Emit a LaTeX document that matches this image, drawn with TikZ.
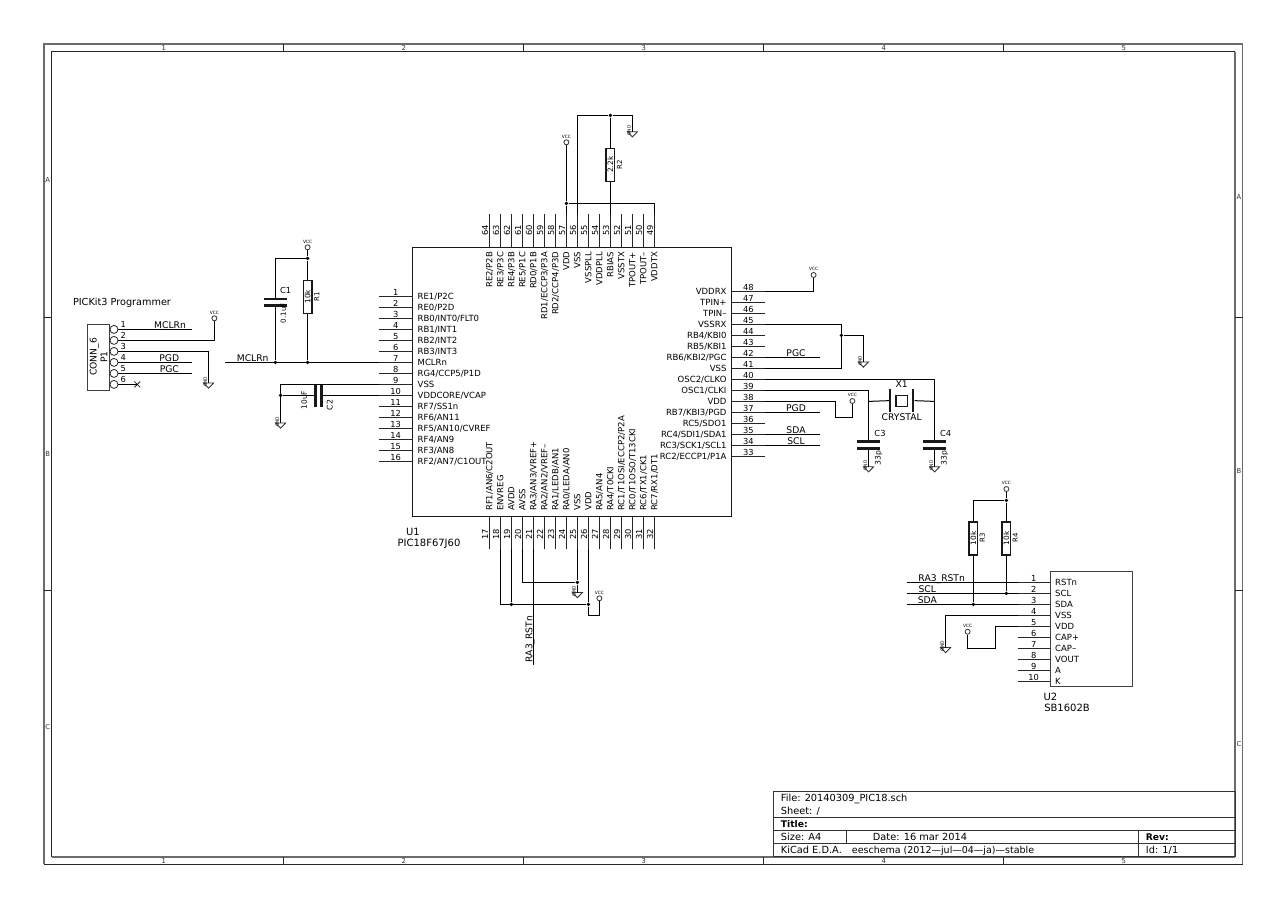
\documentclass[tikz,border=0pt]{standalone}
\usepackage{fontspec}
\setmainfont{DejaVu Sans}
\usepackage{tikz}
\usetikzlibrary{positioning,calc,shapes.misc}
\definecolor{frameGray}{gray}{0.42}
\newcommand{\fs}[1]{\fontsize{#1}{#1}\selectfont}
\tikzset{
  wire/.style={line width=1pt, black},
  pinline/.style={line width=1pt, black!85},
  junct/.style={circle, fill=black, draw=none, inner sep=0pt, minimum size=3.8pt},
  plate/.style={rectangle, fill=black!90, draw=none, inner sep=0pt, minimum width=23.5pt, minimum height=2.6pt},
  resbody/.style={rectangle, draw=black!90, line width=1.4pt, fill=white, inner sep=0pt,
                  minimum width=33pt, minimum height=8.5pt, font=\fs{7.4}},
  pinname/.style={inner sep=0pt, font=\fs{8.5}, text height=6pt, text depth=0pt},
  pinnum/.style={inner sep=0pt, font=\fs{8.3}, text height=6pt, text depth=0pt},
  netlab/.style={inner sep=0pt, font=\fs{9.2}, text height=6.6pt, text depth=0pt},
  reflab/.style={inner sep=0pt, font=\fs{10}, text height=6.8pt, text depth=0pt},
  vallab/.style={inner sep=0pt, font=\fs{7}, text height=5.2pt, text depth=0pt},
  vccdot/.style={circle, draw=black!80, line width=0.8pt, inner sep=0pt, minimum size=5pt},
  vcclab/.style={inner sep=0pt, font=\fs{4.4}},
  gndtri/.style={draw=black!80, line width=0.9pt},
  gndlab/.style={inner sep=0pt, font=\fs{4.4}, rotate=90},
  nocon/.style={cross out, draw=black!85, line width=0.8pt, inner sep=0pt, minimum size=5pt},
  thickframe/.style={draw=frameGray, line width=1.9pt},
  midframe/.style={draw=frameGray, line width=1.5pt},
  thinframe/.style={draw=black!85, line width=0.9pt},
  gridlab/.style={inner sep=0pt, font=\fs{6.8}, text=black!80},
  tblock/.style={draw=black!80, line width=0.9pt},
  tbtext/.style={inner sep=0pt, anchor=west, font=\fs{9.8}, text height=6.8pt, text depth=0pt}
}
\newcommand{\vccsym}[3]{%
  \node[vccdot] (#1) at (#2,#3) {};
  \node[vcclab] (#1t) at (#2,#3-5.8) {VCC};}
\newcommand{\gndsym}[3]{%
  \coordinate (#1) at (#2,#3);
  \draw[gndtri] (#2-5,#3) -- (#2+5,#3) -- (#2,#3+5.2) -- cycle;
  \node[gndlab] (#1t) at (#2-3.4,#3-1.2) {GND};}
\begin{document}
\begin{tikzpicture}[x=1pt, y=-1pt]

\useasboundingbox[fill=white] (0,0) rectangle (1285,908);

% Sheet frame with its grid marks
\draw[thickframe] (44,864.3) -- (44,44) -- (1242.6,44);
\draw[midframe] (1242.6,44) -- (1242.6,864.3);
\draw[thinframe] (44,864.3) -- (1242.6,864.3);
\draw[thinframe] (1235,51.7) -- (51.7,51.7) -- (51.7,856.7);
\draw[thickframe] (51.7,856.7) -- (1235,856.7);
\draw[midframe] (1235,51.7) -- (1235,856.7);
\foreach \gx in {283.7,523.7,763.7,1003.7}{
  \draw[thinframe] (\gx,44) -- (\gx,51.7);
  \draw[thinframe] (\gx,856.7) -- (\gx,864.3);
}
\foreach \gy in {317.4,590.7}{
  \draw[thinframe] (44,\gy) -- (51.7,\gy);
  \draw[thinframe] (1235,\gy) -- (1242.6,\gy);
}
\foreach \lab/\gx in {1/163.7,2/403.7,3/643.7,4/883.7,5/1123.7}{
  \node[gridlab] (top\lab) at (\gx,47.8) {\lab};
  \node[gridlab] (bot\lab) at (\gx,860.6) {\lab};
}
\foreach \lab/\gyL/\gyR in {A/180/197.3,B/454/471,C/727.3/744.3}{
  \node[gridlab] (lft\lab) at (47.8,\gyL) {\lab};
  \node[gridlab] (rgt\lab) at (1239,\gyR) {\lab};
}

% Title block
\draw[tblock] (773.3,791.4) rectangle (1235,856.7);
\draw[tblock] (773.3,817.7) -- (1235,817.7);
\draw[tblock] (773.3,830.7) -- (1235,830.7);
\draw[tblock] (773.3,843.7) -- (1235,843.7);
\draw[tblock] (846.4,830.7) -- (846.4,843.7);
\draw[tblock] (1138.7,830.7) -- (1138.7,856.7);
\node[tbtext] (tbFile) at (780.7,797.6) {File: 20140309\_PIC18.sch};
\node[tbtext] (tbSheet) at (780.7,810.7) {Sheet: /};
\node[tbtext, font=\fs{9.2}\bfseries] (tbTitle) at (780.7,823.9) {Title:};
\node[tbtext] (tbSize) at (780.7,837) {Size: A4};
\node[tbtext] (tbDate) at (872.7,837) {Date: 16 mar 2014};
\node[tbtext, font=\fs{9.2}\bfseries] (tbRev) at (1145.7,837) {Rev:};
\node[tbtext] (tbKicad) at (780.7,850.2) {KiCad E.D.A.};
\node[tbtext, font=\fs{9.5}] (tbVer) at (851.7,850.2) {eeschema (2012---jul---04---ja)---stable};
\node[tbtext] (tbId) at (1145.7,850.2) {Id: 1/1};

% U1 body
\node[rectangle, draw=black!90, line width=1pt, inner sep=0pt, minimum width=319pt, minimum height=269pt]
  (u1) at (572,382) {};
\node[reflab] (u1Ref) at (413,531.7) {U1};
\node[reflab] (u1Val) at (429,543.3) {PIC18F67J60};

% U1 left pins
\foreach \pnum/\pname [count=\i from 0] in {1/{RE1/P2C}, 2/{RE0/P2D}, 3/{RB0/INT0/FLT0}, 4/{RB1/INT1}, 5/{RB2/INT2},
    6/{RB3/INT3}, 7/MCLRn, 8/{RG4/CCP5/P1D}, 9/VSS, 10/{VDDCORE/VCAP}, 11/{RF7/SS1n}, 12/{RF6/AN11},
    13/{RF5/AN10/CVREF}, 14/{RF4/AN9}, 15/{RF3/AN8}, 16/{RF2/AN7/C1OUT}}{
  \pgfmathsetmacro\py{296.4+11*\i}
  \coordinate (s\pnum) at (379,\py);
  \draw[pinline] (s\pnum) -- (412.5,\py);
  \node[pinnum] (n\pnum) at (395.7,\py-4.4) {\pnum};
  \node[pinname, anchor=west] (t\pnum) at (417.5,\py) {\pname};
}

% U1 bottom pins
\foreach \pnum/\pname [count=\i from 0] in {17/{RF1/AN6/C2OUT}, 18/ENVREG, 19/AVDD, 20/AVSS, 21/{RA3/AN3/VREF+},
    22/{RA2/AN2/VREF--}, 23/{RA1/LEDB/AN1}, 24/{RA0/LEDA/AN0}, 25/VSS, 26/VDD, 27/{RA5/AN4}, 28/{RA4/T0CKI},
    29/{RC1/T1OSI/ECCP2/P2A}, 30/{RC0/T1OSO/T13CKI}, 31/{RC6/TX1/CK1}, 32/{RC7/RX1/DT1}}{
  \pgfmathsetmacro\px{489.4+11*\i}
  \coordinate (s\pnum) at (\px,549.3);
  \draw[pinline] (s\pnum) -- (\px,516.5);
  \node[pinnum, rotate=90] (n\pnum) at (\px-4.4,534.5) {\pnum};
  \node[pinname, rotate=90, anchor=west] (t\pnum) at (\px,511) {\pname};
}

% U1 right pins
\foreach \pnum/\pname [count=\i from 0] in {33/{RC2/ECCP1/P1A}, 34/{RC3/SCK1/SCL1}, 35/{RC4/SDI1/SDA1}, 36/{RC5/SDO1},
    37/{RB7/KBI3/PGD}, 38/VDD, 39/{OSC1/CLKI}, 40/{OSC2/CLKO}, 41/VSS, 42/{RB6/KBI2/PGC}, 43/{RB5/KBI1}, 44/{RB4/KBI0},
    45/VSSRX, 46/{TPIN--}, 47/{TPIN+}, 48/VDDRX}{
  \pgfmathsetmacro\py{456.4-11*\i}
  \coordinate (s\pnum) at (764.7,\py);
  \draw[pinline] (s\pnum) -- (731.5,\py);
  \node[pinnum] (n\pnum) at (748.3,\py-4.4) {\pnum};
  \node[pinname, anchor=east] (t\pnum) at (726.7,\py) {\pname};
}

% U1 top pins
\foreach \pnum/\pname [count=\i from 0] in {49/VDDTX, 50/{TPOUT--}, 51/{TPOUT+}, 52/VSSTX, 53/RBIAS, 54/VDDPLL,
    55/VSSPLL, 56/VSS, 57/VDD, 58/{RD2/CCP4/P3D}, 59/{RD1/ECCP3/P3A}, 60/{RD0/P1B}, 61/{RE5/P1C}, 62/{RE4/P3B},
    63/{RE3/P3C}, 64/{RE2/P2B}}{
  \pgfmathsetmacro\px{654.4-11*\i}
  \coordinate (s\pnum) at (\px,214);
  \draw[pinline] (s\pnum) -- (\px,247.5);
  \node[pinnum, rotate=90] (n\pnum) at (\px-4.4,230) {\pnum};
  \node[pinname, rotate=90, anchor=east] (t\pnum) at (\px,251.7) {\pname};
}

% Top of U1: VDD rail, R2 and VSS
\vccsym{vccT}{566.4}{142.3}
\gndsym{gT}{632.4}{131.7}
\node[junct] (jVdd) at (566.4,203.4) {};
\node[junct] (jBias) at (610.4,115.4) {};
\node[resbody, rotate=90] (R2) at (610.4,164.7) {2.2k};
\node[vallab, rotate=90] (R2Ref) at (619.5,164.7) {R2};
\draw[wire] (vccT) -- (jVdd) -- (s57);
\draw[wire] (jVdd) -| (s49);
\draw[wire] (s56) |- (jBias) -| (gT);
\draw[wire] (jBias) -- (R2.east);
\draw[wire] (R2.west) -- (s53);

% Reset network
\vccsym{vccR}{307.6}{247.3}
\node[junct] (jV1) at (307.6,258.4) {};
\node[junct] (jM1) at (275.4,362.4) {};
\node[junct] (jM2) at (307.6,362.4) {};
\node[plate] (C1a) at (275.4,299) {};
\node[plate] (C1b) at (275.4,305.3) {};
\node[resbody, rotate=90] (R1) at (307.6,296.7) {10k};
\node[vallab, rotate=90] (R1Ref) at (316.7,296.5) {R1};
\node[reflab, font=\fs{8.3}] (C1Ref) at (285.7,290.3) {C1};
\node[vallab, rotate=90] (C1Val) at (283.3,313.3) {0.1uF};
\coordinate (mclrL) at (225,362.4);
\node[netlab] (mclrT) at (252.7,358) {MCLRn};
\draw[wire] (vccR) -- (jV1) -- (R1.east);
\draw[wire] (R1.west) -- (jM2);
\draw[wire] (jV1) -| (C1a);
\draw[wire] (C1b) -- (jM1);
\draw[wire] (mclrL) -- (s7);

% VCAP decoupling
\gndsym{gC2}{280.6}{423}
\node[junct] (jC2) at (280.6,395.4) {};
\node[plate, rotate=90] (C2a) at (315.7,395.4) {};
\node[plate, rotate=90] (C2b) at (321.7,395.4) {};
\node[vallab, rotate=90, font=\fs{7.4}] (C2Val) at (304.3,400) {10uF};
\node[vallab, rotate=90, font=\fs{7.8}] (C2Ref) at (330,405) {C2};
\draw[wire] (gC2) |- (s9);
\draw[wire] (jC2) -- (C2a);
\draw[wire] (C2b) -- (s10);

% Programmer header
\node[reflab, font=\fs{9.7}] (p1Title) at (122,301.7) {PICKit3 Programmer};
\node[rectangle, draw=black!75, line width=1pt, inner sep=0pt, minimum width=21.7pt, minimum height=66pt]
  (p1) at (98.8,357.3) {};
\node[netlab, rotate=90] (p1Val) at (93.3,357) {CONN\_6};
\node[netlab, rotate=90] (p1Ref) at (104,357) {P1};
\foreach \n [count=\i from 0] in {1,2,3,4,5,6}{
  \pgfmathsetmacro\py{329.4+11*\i}
  \node[circle, draw=black!85, line width=0.8pt, inner sep=0pt, minimum size=8pt] (c\n) at (114,\py) {};
  \node[pinnum] (cn\n) at (123.3,\py-4.6) {\n};
}
\vccsym{vccP}{214.4}{318.3}
\gndsym{gP}{208.6}{383}
\coordinate (e1) at (192.3,329.4);
\coordinate (e4) at (192.3,362.4);
\coordinate (e5) at (192.3,373.4);
\node[nocon] (nc) at (137.3,384.4) {};
\node[netlab] (e1T) at (170,325) {MCLRn};
\node[netlab] (e4T) at (169.3,357.7) {PGD};
\node[netlab] (e5T) at (169.3,368.7) {PGC};
\draw[wire] (c1.east) -- (e1);
\draw[wire] (c2.east) -| (vccP);
\draw[wire] (c3.east) -| (gP);
\draw[wire] (c4.east) -- (e4);
\draw[wire] (c5.east) -- (e5);
\draw[wire] (c6.east) -- (nc.center);

% Right side of U1
\vccsym{vccD}{813.6}{275}
\vccsym{vccO}{852.4}{401}
\gndsym{gR}{863.4}{362}
\node[junct] (jVs) at (841.4,335.4) {};
\coordinate (c41) at (841.4,368.4);
\coordinate (c38) at (835.6,417.4);
\coordinate (e42) at (819.7,357.4);
\coordinate (e37) at (819.7,412.4);
\coordinate (e35) at (819.7,434.4);
\coordinate (e34) at (819.7,445.4);
\node[netlab] (e42T) at (796,352.7) {PGC};
\node[netlab] (e37T) at (796,407.7) {PGD};
\node[netlab] (e35T) at (796,429.7) {SDA};
\node[netlab] (e34T) at (796,440.7) {SCL};
\draw[wire] (s48) -| (vccD);
\draw[wire] (s45) -| (c41) -- (s41);
\draw[wire] (jVs) -| (gR);
\draw[wire] (s42) -- (e42);
\draw[wire] (s38) -| (c38) -| (vccO);
\draw[wire] (s37) -- (e37);
\draw[wire] (s35) -- (e35);
\draw[wire] (s34) -- (e34);

% Crystal and load capacitors
\node[plate, rotate=90, minimum width=22.4pt, minimum height=2.2pt] (X1a) at (890.3,400.6) {};
\node[plate, rotate=90, minimum width=22.4pt, minimum height=2.2pt] (X1b) at (913.3,400.6) {};
\node[rectangle, draw=black!90, line width=1.3pt, inner sep=0pt, minimum width=11.5pt, minimum height=11pt]
  (X1c) at (901.8,401.2) {};
\node[netlab] (X1Ref) at (901.7,384) {X1};
\node[netlab] (X1Val) at (901.7,417.3) {CRYSTAL};
\node[plate] (C3a) at (868.6,441.7) {};
\node[plate] (C3b) at (868.6,448.3) {};
\node[plate] (C4a) at (934.6,441.7) {};
\node[plate] (C4b) at (934.6,448.3) {};
\node[reflab, font=\fs{8.3}] (C3Ref) at (880,433.3) {C3};
\node[reflab, font=\fs{8.3}] (C4Ref) at (945.7,433.3) {C4};
\node[vallab, rotate=90, font=\fs{7.6}] (C3Val) at (878,458) {33p};
\node[vallab, rotate=90, font=\fs{7.6}] (C4Val) at (944,458) {33p};
\gndsym{gC3}{868.6}{466.7}
\gndsym{gC4}{934.6}{466.7}
\coordinate (xL) at (868.6,401.4);
\coordinate (xR) at (934.6,401.4);
\draw[wire] (s39) -| (C3a);
\draw[wire] (s40) -| (C4a);
\draw[wire] (xL) -- (X1a);
\draw[wire] (X1b) -- (xR);
\draw[wire] (C3b) -- (gC3);
\draw[wire] (C4b) -- (gC4);

% Bottom of U1
\vccsym{vccB}{599.4}{598.3}
\gndsym{gB}{577.4}{592.5}
\node[junct] (jAv) at (511.4,604.4) {};
\node[junct] (jVd) at (588.4,604.4) {};
\node[junct] (jAs) at (577.4,582.4) {};
\coordinate (c26) at (588.4,615.4);
\coordinate (e21) at (533.4,665);
\node[netlab, rotate=90] (e21T) at (529,639) {RA3\_RSTn};
\draw[wire] (s18) |- (jVd);
\draw[wire] (s19) -- (jAv);
\draw[wire] (s20) |- (jAs);
\draw[wire] (s25) -- (jAs) -- (gB);
\draw[wire] (s21) -- (e21);
\draw[wire] (s26) -- (jVd) -- (c26) -| (vccB);

% U2 body and pins
\node[rectangle, draw=black!75, line width=1pt, inner sep=0pt, minimum width=82.4pt, minimum height=115pt]
  (u2) at (1091.5,629.2) {};
\node[reflab] (u2Ref) at (1050.5,696.7) {U2};
\node[reflab] (u2Val) at (1067,707.7) {SB1602B};
\foreach \pnum/\pname [count=\i from 0] in {1/RSTn, 2/SCL, 3/SDA, 4/VSS, 5/VDD, 6/{CAP+}, 7/{CAP--}, 8/VOUT, 9/A, 10/K}{
  \pgfmathsetmacro\py{582.4+11*\i}
  \coordinate (q\pnum) at (1017.7,\py);
  \draw[pinline] (q\pnum) -- (1050.3,\py);
  \node[pinnum] (qn\pnum) at (1033.7,\py-4.4) {\pnum};
  \node[pinname, anchor=west] (qt\pnum) at (1055,\py) {\pname};
}

% Pull-ups and wiring of U2
\vccsym{vccU}{1006.4}{489}
\vccsym{vccL}{967.6}{631.7}
\gndsym{gU}{945.6}{647.5}
\node[junct] (jU) at (1006.4,500.4) {};
\node[junct] (jR3) at (973.4,604.4) {};
\node[junct] (jR4) at (1006.4,593.4) {};
\node[resbody, rotate=90] (R3) at (973.4,538.3) {10k};
\node[resbody, rotate=90] (R4) at (1006.4,538.3) {10k};
\node[vallab, rotate=90] (R3Ref) at (982.3,538) {R3};
\node[vallab, rotate=90] (R4Ref) at (1015.3,538) {R4};
\coordinate (w1) at (906.7,582.4);
\coordinate (w2) at (906.7,593.4);
\coordinate (w3) at (906.7,604.4);
\coordinate (c5) at (995.4,648.4);
\node[netlab] (w1T) at (941.7,577.7) {RA3\_RSTn};
\node[netlab] (w2T) at (927.3,588.7) {SCL};
\node[netlab] (w3T) at (927.3,600) {SDA};
\draw[wire] (vccU) -- (jU) -- (R4.east);
\draw[wire] (jU) -| (R3.east);
\draw[wire] (R3.west) -- (jR3);
\draw[wire] (R4.west) -- (jR4);
\draw[wire] (w1) -- (q1);
\draw[wire] (w2) -- (q2);
\draw[wire] (w3) -- (q3);
\draw[wire] (q4) -| (gU);
\draw[wire] (q5) -| (c5) -| (vccL);

\end{tikzpicture}
\end{document}
